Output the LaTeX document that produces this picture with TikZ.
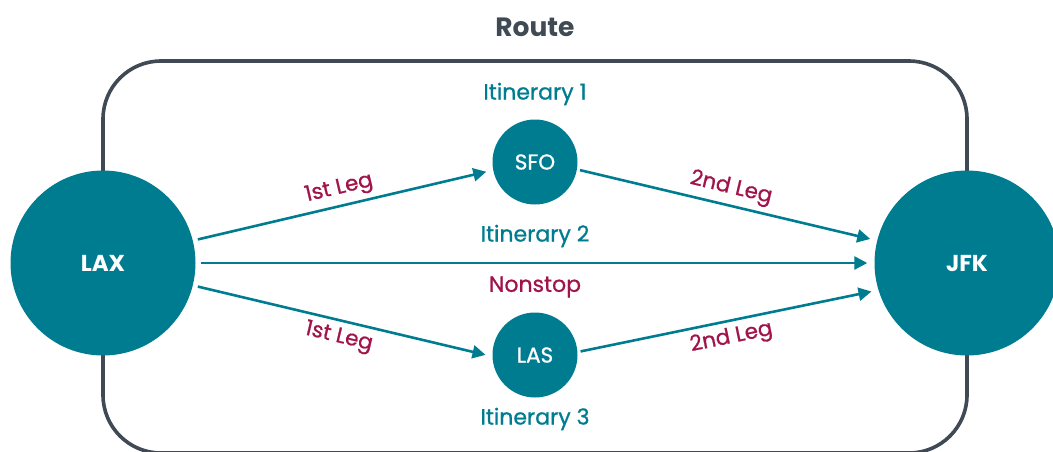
\documentclass[tikz,border=0pt]{standalone}
\usepackage{fontspec}
\setmainfont{Poppins}
\newfontfamily\mediumface{Poppins}[FakeBold=0.9]
\usetikzlibrary{arrows.meta}
\definecolor{hubteal}{HTML}{007C91}
\definecolor{legred}{HTML}{A0144A}
\definecolor{frameslate}{HTML}{3F4A55}
\tikzset{
  frame/.style={draw=frameslate, line width=3.6pt, rounded corners=58pt},
  hub/.style={circle, fill=hubteal, text=white, minimum size=185pt, inner sep=0pt,
    font=\fontsize{23}{26}\selectfont\bfseries},
  stopnode/.style={circle, fill=hubteal, text=white, minimum size=85pt, inner sep=0pt,
    font=\mediumface\fontsize{21.5}{24}\selectfont},
  link/.style={draw=hubteal, line width=2.6pt,
    -{Triangle[length=13pt,width=13pt]}, shorten <=5pt, shorten >=7pt},
  leg/.style={text=legred, font=\mediumface\fontsize{21.5}{24}\selectfont, sloped, inner sep=1pt},
  itin/.style={text=hubteal, font=\mediumface\fontsize{22}{25}\selectfont},
  title/.style={text=frameslate, font=\fontsize{26.5}{30}\selectfont\bfseries},
}
\begin{document}
\begin{tikzpicture}[x=1pt, y=-1pt]
  \useasboundingbox (0,0) rectangle (1053,451);
  \clip (0,0) rectangle (1053,451);

  % route frame (its lower edge runs just past the page)
  \draw[frame] (103,61) rectangle (967,453);
  \node[title] (route) at (535,27) {Route};

  % airports
  \node[hub] (LAX) at (103,263) {LAX};
  \node[hub] (JFK) at (967,263) {JFK};
  \node[stopnode] (SFO) at (535,162) {SFO};
  \node[stopnode] (LAS) at (535,355) {LAS};

  % itinerary captions
  \node[itin] (it1) at (535,94) {Itinerary 1};
  \node[itin] (it2) at (535,236) {Itinerary 2};
  \node[itin, text=legred] (nonstop) at (535,287) {Nonstop};
  \node[itin] (it3) at (535,419) {Itinerary 3};

  % legs
  \draw[link] (LAX.14) -- node[leg, above=4pt] {1st Leg} (SFO.191);
  \draw[link, shorten <=3pt] (SFO.-10) -- node[leg, above=4pt] {2nd Leg} (JFK.166);
  \draw[link] (LAX.0) -- (JFK.180);
  \draw[link] (LAX.-14) -- node[leg, below=4pt] {1st Leg} (LAS.182);
  \draw[link, shorten <=3pt] (LAS.4) -- node[leg, below=4pt] {2nd Leg} (JFK.197);
\end{tikzpicture}
\end{document}
